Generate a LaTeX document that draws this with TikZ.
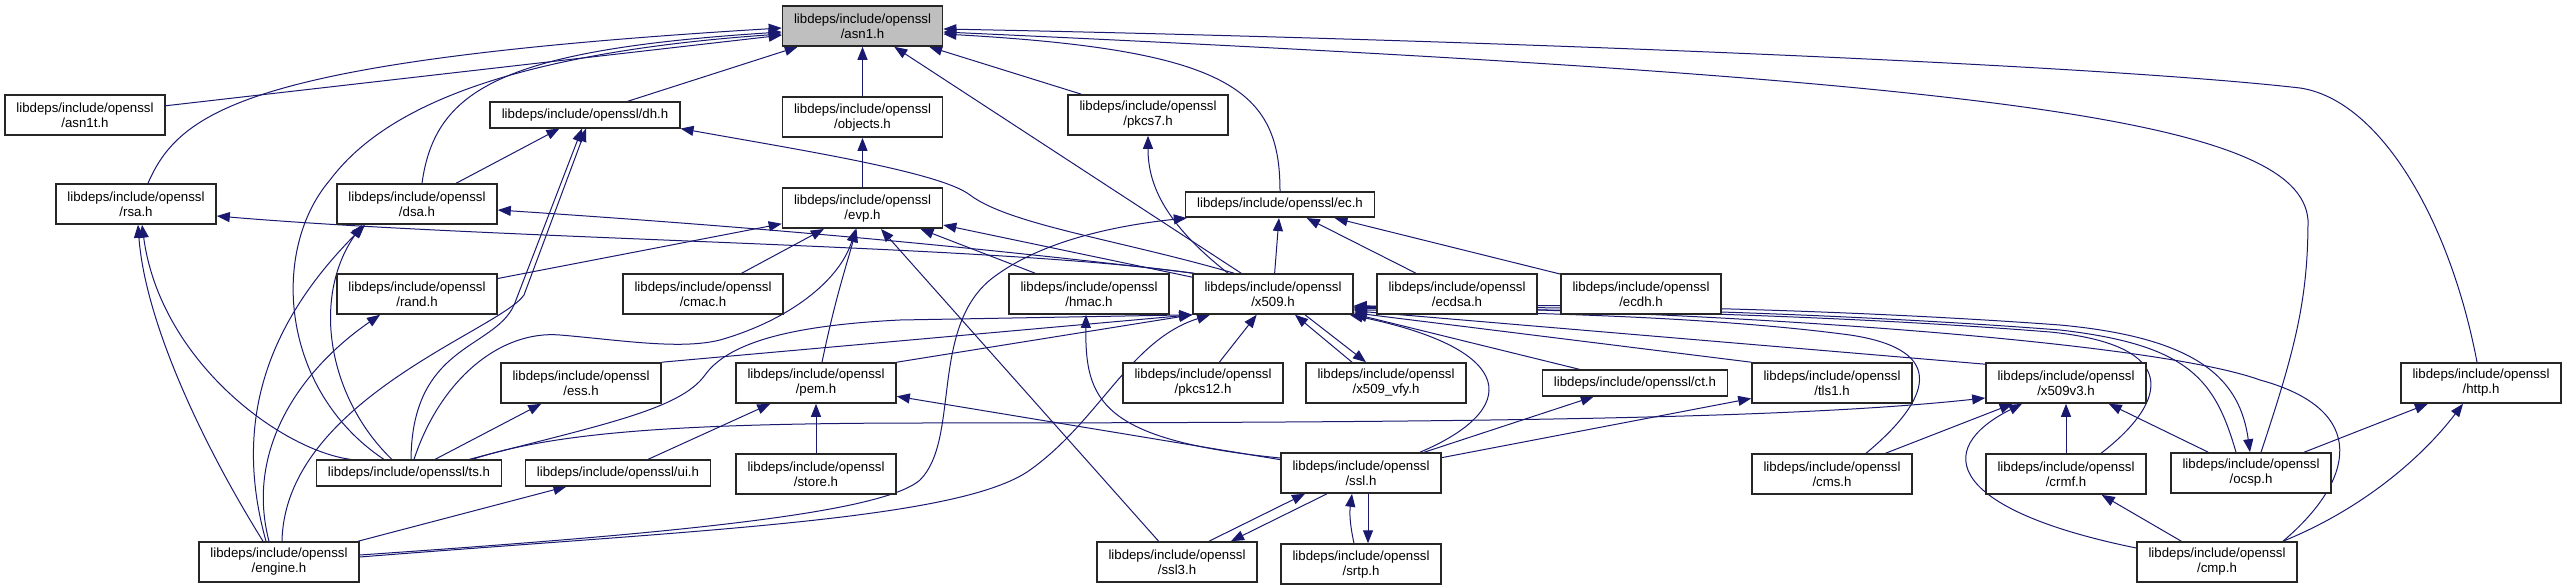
\documentclass[tikz,border=0pt]{standalone}
\usepackage{fontspec}
\setmainfont{Liberation Sans}
\usetikzlibrary{positioning, arrows.meta, backgrounds}
\definecolor{edgeblue}{HTML}{191970}
\definecolor{rootgray}{HTML}{BFBFBF}

\begin{document}
\begin{tikzpicture}[
  x=1pt, y=-1pt,
  node distance=49.5pt,
  hdr/.style={rectangle, draw=black!85, line width=1.6pt, fill=white, align=center, inner xsep=11.5pt, inner ysep=3pt, minimum width=160pt, minimum height=40pt, font=\fontsize{13.25}{15}\selectfont},
  hdrone/.style={hdr, minimum height=25.5pt},
  root/.style={hdr, fill=rootgray},
  inc/.style={draw=edgeblue, line width=1pt, -{Triangle[length=13pt, width=10pt]}}
]
\useasboundingbox (0,0) rectangle (2567,588);

\node[root] (asn1) at (862.5,26) {libdeps/include/openssl\\/asn1.h};
\node[hdr] (asn1t) at (85,115) {libdeps/include/openssl\\/asn1t.h};
\node[hdrone] (dh) at (585,115) {libdeps/include/openssl/dh.h};
\node[hdr, below=of asn1] (objects) {libdeps/include/openssl\\/objects.h};
\node[hdr] (pkcs7) at (1148,115) {libdeps/include/openssl\\/pkcs7.h};
\node[hdr] (rsa) at (136,204) {libdeps/include/openssl\\/rsa.h};
\node[hdr] (dsa) at (417,204) {libdeps/include/openssl\\/dsa.h};
\node[hdr, below=of objects] (evp) {libdeps/include/openssl\\/evp.h};
\node[hdrone] (ec) at (1280,204.5) {libdeps/include/openssl/ec.h};
\node[hdr] (rand) at (417,294) {libdeps/include/openssl\\/rand.h};
\node[hdr] (cmac) at (703,294) {libdeps/include/openssl\\/cmac.h};
\node[hdr] (hmac) at (1089,294) {libdeps/include/openssl\\/hmac.h};
\node[hdr] (x509) at (1273,294) {libdeps/include/openssl\\/x509.h};
\node[hdr] (ecdsa) at (1457,294) {libdeps/include/openssl\\/ecdsa.h};
\node[hdr] (ecdh) at (1641,294) {libdeps/include/openssl\\/ecdh.h};
\node[hdr] (ess) at (581,383) {libdeps/include/openssl\\/ess.h};
\node[hdr] (pem) at (816,383) {libdeps/include/openssl\\/pem.h};
\node[hdr] (pkcs12) at (1203,383) {libdeps/include/openssl\\/pkcs12.h};
\node[hdr] (x509vfy) at (1386,383) {libdeps/include/openssl\\/x509\_vfy.h};
\node[hdrone] (ct) at (1635,383) {libdeps/include/openssl/ct.h};
\node[hdr] (tls1) at (1832,383) {libdeps/include/openssl\\/tls1.h};
\node[hdr] (x509v3) at (2066,383) {libdeps/include/openssl\\/x509v3.h};
\node[hdr] (http) at (2481,383) {libdeps/include/openssl\\/http.h};
\node[hdrone] (ts) at (409,473) {libdeps/include/openssl/ts.h};
\node[hdrone] (ui) at (618,473) {libdeps/include/openssl/ui.h};
\node[hdr, below=of pem] (store) {libdeps/include/openssl\\/store.h};
\node[hdr] (ssl) at (1361,473) {libdeps/include/openssl\\/ssl.h};
\node[hdr, below=of tls1] (cms) {libdeps/include/openssl\\/cms.h};
\node[hdr, below=of x509v3] (crmf) {libdeps/include/openssl\\/crmf.h};
\node[hdr] (ocsp) at (2251,473) {libdeps/include/openssl\\/ocsp.h};
\node[hdr] (engine) at (279,562) {libdeps/include/openssl\\/engine.h};
\node[hdr] (ssl3) at (1177,562) {libdeps/include/openssl\\/ssl3.h};
\node[hdr, below=of ssl] (srtp) {libdeps/include/openssl\\/srtp.h};
\node[hdr] (cmp) at (2217,562) {libdeps/include/openssl\\/cmp.h};

\begin{scope}[on background layer]
\draw[inc] (asn1t) -- (asn1);
\draw[inc] ([xshift=12pt]rsa.north) .. controls (180,110) and (250,60) .. ([yshift=-2pt]asn1.west);
\draw[inc] ([xshift=5pt]dsa.north) .. controls (435,90) and (500,50) .. ([yshift=-6pt]asn1.west);
\draw[inc] ([xshift=-25pt]ts.north) .. controls (280,390) and (270,250) .. (330,180) .. controls (375,120) and (480,55) .. ([yshift=-8pt]asn1.west);
\draw[inc] (dh) -- (asn1);
\draw[inc] (objects) -- (asn1);
\draw[inc] (x509) -- (asn1);
\draw[inc] (pkcs7) -- (asn1);
\draw[inc] (ec.north) .. controls (1280,90) and (1230,50) .. ([yshift=-8pt]asn1.east);
\draw[inc] ([xshift=10pt]ocsp.north) .. controls (2295,350) and (2308,300) .. (2308,220) .. controls (2300,120) and (2000,80) .. ([yshift=-6pt]asn1.east);
\draw[inc] ([xshift=-4pt]http.north) .. controls (2450,220) and (2380,100) .. (2300,88) .. controls (2100,65) and (1500,40) .. ([yshift=-3pt]asn1.east);

\draw[inc] (dsa) -- (dh);
\draw[inc] ([xshift=2pt]ts.north) .. controls (412,340) and (500,350) .. (516,300) -- ([xshift=-3pt]dh.south);
\draw[inc] ([xshift=3pt]engine.north) .. controls (285,400) and (500,330) .. (524,295) -- ([xshift=1pt]dh.south);
\draw[inc] ([xshift=-39pt]x509.north) .. controls (1120,240) and (1010,225) .. (970,195) .. controls (940,172) and (800,150) .. (dh.south east);
\draw[inc] (evp) -- (objects);
\draw[inc] ([xshift=-45pt]x509.north) .. controls (1160,220) and (1148,180) .. (pkcs7.south);

\draw[inc] (x509.north west) .. controls (1000,245) and (500,240) .. ([yshift=-12pt]rsa.east);
\draw[inc] ([xshift=-58pt]ts.north) .. controls (280,450) and (160,360) .. ([xshift=6pt]rsa.south);
\draw[inc] ([xshift=-16pt]engine.north) .. controls (200,440) and (145,320) .. ([xshift=2pt]rsa.south);
\draw[inc] ([xshift=2pt]x509.north west) .. controls (1000,250) and (800,230) .. ([yshift=-6pt]dsa.east);
\draw[inc] ([xshift=-17pt]ts.north) .. controls (330,400) and (310,300) .. ([xshift=-55pt]dsa.south);
\draw[inc] ([xshift=-13pt]engine.north) .. controls (235,430) and (260,330) .. ([xshift=-52pt]dsa.south);

\draw[inc] (rand) -- (evp);
\draw[inc] (cmac) -- (evp);
\draw[inc] ([xshift=5pt]ts.north) .. controls (440,380) and (500,330) .. (560,335) .. controls (620,340) and (680,350) .. (720,340) .. controls (790,320) and (840,280) .. ([xshift=-7pt]evp.south);
\draw[inc] ([xshift=6pt]pem.north) .. controls (835,300) and (845,270) .. ([xshift=-6pt]evp.south);
\draw[inc] (ssl3) -- (evp);
\draw[inc] (hmac) -- ([xshift=58pt]evp.south);
\draw[inc] (x509) -- (evp);

\draw[inc] (x509) -- (ec);
\draw[inc] (ecdsa) -- (ec);
\draw[inc] (ecdh) -- (ec);
\draw[inc] ([yshift=7pt]engine.east) .. controls (650,535) and (880,515) .. (920,480) .. controls (960,440) and (930,330) .. (990,280) .. controls (1040,240) and (1120,225) .. ([xshift=2pt]ec.south west);
\draw[inc] ([xshift=-10pt]engine.north) .. controls (245,450) and (300,370) .. ([xshift=-37pt]rand.south);
\draw[inc] (engine) -- (ui);
\draw[inc] ([yshift=5pt]engine.east) .. controls (700,530) and (960,520) .. (1030,470) .. controls (1100,420) and (1130,340) .. ([xshift=-63pt]x509.south);

\draw[inc] (ts) -- (ess);
\draw[inc] ([xshift=60pt]ts.north) .. controls (600,425) and (680,410) .. (705,375) .. controls (730,340) and (800,325) .. (900,320) -- (x509.south west);
\draw[inc] ([xshift=63pt]ts.north) .. controls (560,430) and (700,424) .. (900,423) .. controls (1500,423) and (1800,418) .. ([yshift=-15pt]x509v3.west);
\draw[inc] (ess.north east) -- (x509.south west);
\draw[inc] (pem.north east) -- (x509.south west);
\draw[inc] (ui) -- (pem);
\draw[inc] (store) -- (pem);
\draw[inc] (ssl) -- (pem);

\draw[inc] ([yshift=15pt]ssl.west) .. controls (1100,440) and (1085,400) .. ([xshift=-3pt]hmac.south);
\draw[inc] ([xshift=59pt]ssl.north) .. controls (1520,410) and (1520,350) .. ([xshift=-4pt]x509.south east);
\draw[inc] (ssl) -- (ct);
\draw[inc] (ssl) -- (tls1);
\draw[inc] ([xshift=32pt]ssl3.north) -- ([xshift=-56pt]ssl.south);
\draw[inc] ([xshift=-34pt]ssl.south) -- ([xshift=54pt]ssl3.north);
\draw[inc] ([xshift=-7pt]srtp.north) to[bend left=10] ([xshift=-9pt]ssl.south);
\draw[inc] ([xshift=7pt]ssl.south) -- ([xshift=7pt]srtp.north);

\draw[inc] ([xshift=32pt]x509.south) -- ([xshift=-20pt]x509vfy.north);
\draw[inc] ([xshift=-34pt]x509vfy.north) -- ([xshift=22pt]x509.south);
\draw[inc] (pkcs12) -- (x509);
\draw[inc] (ct) -- (x509);
\draw[inc] (tls1.north west) -- ([yshift=2pt]x509.south east);
\draw[inc] ([yshift=-2pt]x509v3.north west) -- ([yshift=4pt]x509.south east);
\draw[inc] ([xshift=34pt]cms.north) .. controls (1930,400) and (1950,350) .. (1850,335) .. controls (1700,315) and (1500,312) .. ([yshift=5pt]x509.south east);
\draw[inc] ([xshift=35pt]crmf.north) .. controls (2170,400) and (2180,345) .. (2050,332) .. controls (1800,312) and (1500,308) .. ([yshift=6pt]x509.south east);
\draw[inc] ([xshift=-15pt]ocsp.north) .. controls (2215,380) and (2190,345) .. (2060,330) .. controls (1800,310) and (1500,305) .. ([yshift=7pt]x509.south east);
\draw[inc] ([yshift=8pt]x509.south east) .. controls (1500,303) and (1800,306) .. (2060,325) .. controls (2200,338) and (2240,380) .. ([xshift=-1pt]ocsp.north);
\draw[inc] ([xshift=66pt]cmp.north) .. controls (2355,480) and (2370,410) .. (2260,380) .. controls (2150,340) and (1700,310) .. ([yshift=9pt]x509.south east);

\draw[inc] (ocsp) -- (x509v3);
\draw[inc] (ocsp) -- (http);
\draw[inc] (cms) -- (x509v3);
\draw[inc] (crmf) -- (x509v3);
\draw[inc] ([yshift=14pt]cmp.west) .. controls (1950,510) and (1930,450) .. ([xshift=-44pt]x509v3.south);
\draw[inc] (cmp) -- (crmf);
\draw[inc] ([xshift=66pt]cmp.north) .. controls (2360,510) and (2420,460) .. ([xshift=-18pt]http.south);
\end{scope}
\end{tikzpicture}
\end{document}
